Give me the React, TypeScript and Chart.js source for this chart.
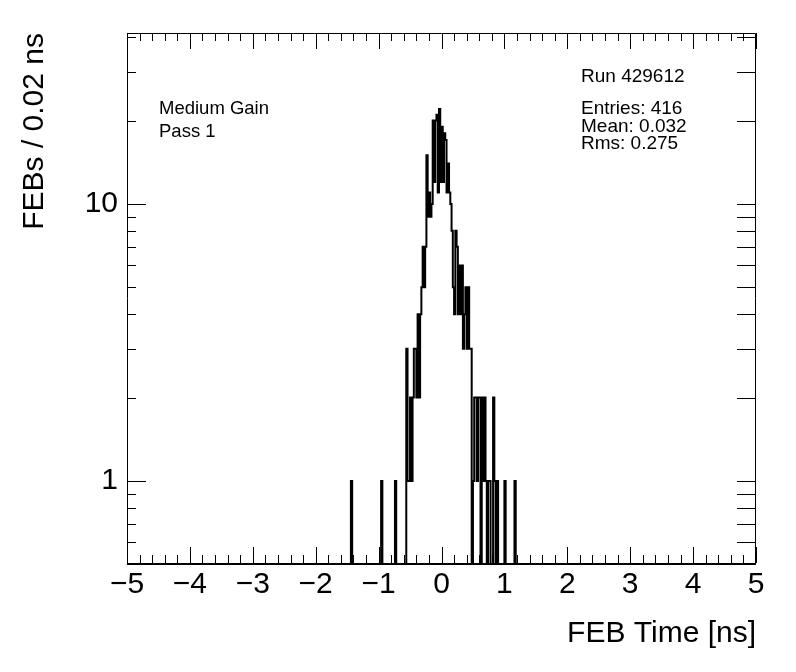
import React, { useEffect, useRef } from 'react';
import { Chart, registerables } from 'chart.js';

Chart.register(...registerables);

// ---------------- data ----------------
const X_MIN = -5;
const X_MAX = 5;
const Y_MIN = 0.506;
const Y_MAX = 41.4;
const BIN_WIDTH = 0.02;
const FIRST_BIN_LOW = -1.5;
// FEB counts per 0.02 ns bin, starting at FIRST_BIN_LOW
const COUNTS: number[] = [
  0, 0, 0, 1, // -1.50 .. -1.44
  0, 0, 0, 0, 0, 0, 0, 0, 0, 0, 0, 0, 0, 0, 0, 0, 0, 0, 0, 0, 0, 0, 0, // -1.42 .. -0.98
  1, // -0.96
  0, 0, 0, 0, 0, 0, 0, 0, 0, 0, // -0.94 .. -0.76
  1, // -0.74
  0, 0, 0, 0, 0, 0, 0, 0, // -0.72 .. -0.58
  3, 1, 1, 2, 1, 2, 3, 3, 2, // -0.56 .. -0.40
  4, 2, 4, 5, 7, 5, 7, // -0.38 .. -0.26
  15, 9, 11, 9, 10, // -0.24 .. -0.16
  20, 12, 20, 21, 11, 22, 12, // -0.14 .. -0.02
  19, 12, 18, 17, 11, 14, 11, // 0.00 .. 0.12
  10, 8, 5, 4, 8, 7, 4, // 0.14 .. 0.26
  6, 4, 6, 3, 4, 5, 3, 5, 3, 3, // 0.28 .. 0.46
  0, 1, 2, 2, 1, 2, 2, 0, 2, 1, 2, 1, 0, 1, 1, 0, 0, 2, 1, 0, 1, // 0.48 .. 0.88
  0, 0, 0, 0, 0, // 0.90 .. 0.98
  1, // 1.00
  0, 0, 0, 0, 0, 0, 0, // 1.02 .. 1.14
  1, // 1.16
  0, 0, // 1.18 .. 1.20
];
const X_MAJOR_TICKS = [-5, -4, -3, -2, -1, 0, 1, 2, 3, 4, 5];
const X_MINOR_DIVISIONS = 5;
const Y_MAJOR_TICKS = [1, 10];
const Y_MINOR_TICKS = [0.6, 0.7, 0.8, 0.9, 2, 3, 4, 5, 6, 7, 8, 9, 20, 30, 40];
const X_TITLE = 'FEB Time [ns]';
const Y_TITLE = 'FEBs / 0.02 ns';
const LEFT_TEXT = ['Medium Gain', 'Pass 1'];
const RUN_TEXT = 'Run 429612';
const STATS_TEXT = ['Entries: 416', 'Mean: 0.032', 'Rms: 0.275'];

// ---------------- style ----------------
const FONT = '"Liberation Sans", Arial, Helvetica, sans-serif';
const W = 796;
const H = 672;
const ZERO_FLOOR = 0.05; // below visible axis: draws empty bins at the bottom edge

function minusLabel(v: number): string {
  if (Math.abs(v) < 1e-9) return '0';
  return v < 0 ? '\u2212' + String(Math.abs(v)) : String(v);
}

const rootFrame = {
  id: 'rootFrame',
  afterDraw(chart: any) {
    const { ctx, chartArea: a, scales } = chart;
    const xs = scales.x;
    const ys = scales.y;
    ctx.save();
    ctx.strokeStyle = '#000';
    ctx.lineWidth = 1;
    const L = a.left + 0.5;
    const R = a.right - 0.5;
    const T = a.top + 0.5;
    const B = a.bottom + 0.5;
    ctx.beginPath();
    ctx.moveTo(L, B);
    ctx.lineTo(L, T);
    ctx.lineTo(R, T);
    ctx.lineTo(R, B);
    ctx.stroke();
    ctx.lineWidth = 2;
    ctx.beginPath();
    ctx.moveTo(a.left, a.bottom + 1);
    ctx.lineTo(a.right, a.bottom + 1);
    ctx.stroke();
    ctx.lineWidth = 1;

    const vtick = (v: number, len: number) => {
      const px = Math.round(xs.getPixelForValue(v)) + 0.5;
      ctx.beginPath();
      ctx.moveTo(px, a.bottom);
      ctx.lineTo(px, a.bottom - len);
      ctx.moveTo(px, a.top);
      ctx.lineTo(px, a.top + len);
      ctx.stroke();
    };
    X_MAJOR_TICKS.forEach((v) => vtick(v, 16));
    for (let i = 0; i < X_MAJOR_TICKS.length - 1; i++) {
      const lo = X_MAJOR_TICKS[i];
      const hi = X_MAJOR_TICKS[i + 1];
      for (let k = 1; k < X_MINOR_DIVISIONS; k++) {
        vtick(lo + ((hi - lo) * k) / X_MINOR_DIVISIONS, 8);
      }
    }
    const htick = (v: number, lenL: number, lenR: number) => {
      const py = Math.round(ys.getPixelForValue(v)) + 0.5;
      ctx.beginPath();
      ctx.moveTo(a.left, py);
      ctx.lineTo(a.left + lenL, py);
      ctx.moveTo(a.right, py);
      ctx.lineTo(a.right - lenR, py);
      ctx.stroke();
    };
    Y_MAJOR_TICKS.forEach((v) => htick(v, 19, 19));
    Y_MINOR_TICKS.forEach((v) => htick(v, 9, 19));

    ctx.fillStyle = '#000';
    ctx.textAlign = 'left';
    ctx.textBaseline = 'alphabetic';
    ctx.font = '18.5px ' + FONT;
    ctx.fillText(LEFT_TEXT[0], 159, 114);
    ctx.fillText(LEFT_TEXT[1], 159, 137);
    ctx.font = '19px ' + FONT;
    ctx.fillText(RUN_TEXT, 581, 82);
    ctx.fillText(STATS_TEXT[0], 581, 114);
    ctx.fillText(STATS_TEXT[1], 581, 132);
    ctx.fillText(STATS_TEXT[2], 581, 149);
    ctx.restore();
  },
};

export default function App() {
  const ref = useRef<HTMLCanvasElement>(null);
  useEffect(() => {
    document.body.style.margin = '0';
    const canvas = ref.current;
    if (!canvas) return;

    const points: { x: number; y: number }[] = [{ x: X_MIN, y: ZERO_FLOOR }];
    COUNTS.forEach((c, i) => {
      points.push({ x: FIRST_BIN_LOW + i * BIN_WIDTH, y: c > 0 ? c : ZERO_FLOOR });
    });
    points.push({ x: FIRST_BIN_LOW + COUNTS.length * BIN_WIDTH, y: ZERO_FLOOR });
    points.push({ x: X_MAX, y: ZERO_FLOOR });

    const chart = new Chart(canvas, {
      type: 'line',
      data: {
        datasets: [
          {
            data: points,
            borderColor: '#000',
            borderWidth: 2,
            pointRadius: 0,
            fill: false,
            tension: 0,
            stepped: 'before',
            clip: { left: 0, top: 0, right: 0, bottom: 1 },
          } as any,
        ],
      },
      options: {
        animation: false,
        responsive: false,
        devicePixelRatio: 1,
        events: [],
        layout: { padding: { left: 0, top: 33, right: 40, bottom: 0 } },
        plugins: { legend: { display: false }, tooltip: { enabled: false } },
        scales: {
          x: {
            type: 'linear',
            position: 'bottom',
            min: X_MIN,
            max: X_MAX,
            grid: { display: false, drawTicks: false },
            border: { display: false },
            ticks: {
              stepSize: 1,
              autoSkip: false,
              maxRotation: 0,
              padding: 4,
              color: '#000',
              font: { family: FONT, size: 30, lineHeight: 1.2 },
              callback: (v: any) => minusLabel(Number(v)),
            },
            title: {
              display: true,
              text: X_TITLE,
              align: 'end',
              color: '#000',
              font: { family: FONT, size: 30, lineHeight: 1.2 },
              padding: { top: 0, bottom: 20 },
            },
            afterFit: (s: any) => {
              s.height = 109;
            },
          },
          y: {
            type: 'logarithmic',
            min: Y_MIN,
            max: Y_MAX,
            grid: { display: false, drawTicks: false },
            border: { display: false },
            ticks: {
              autoSkip: false,
              padding: 9,
              color: '#000',
              font: { family: FONT, size: 30, lineHeight: 1.2 },
              callback: (v: any) => {
                const n = Number(v);
                return Y_MAJOR_TICKS.some((t) => Math.abs(t - n) < 1e-9) ? String(n) : '';
              },
            },
            title: {
              display: true,
              text: Y_TITLE,
              align: 'end',
              color: '#000',
              font: { family: FONT, size: 30, lineHeight: 1.2 },
              padding: { top: 17, bottom: 0 },
            },
            afterFit: (s: any) => {
              s.width = 127;
            },
          },
        },
      } as any,
      plugins: [rootFrame],
    });
    return () => chart.destroy();
  }, []);

  return (
    <div style={{ width: W, height: H, background: '#fff' }}>
      <canvas ref={ref} width={W} height={H} style={{ display: 'block', width: W, height: H }} />
    </div>
  );
}
